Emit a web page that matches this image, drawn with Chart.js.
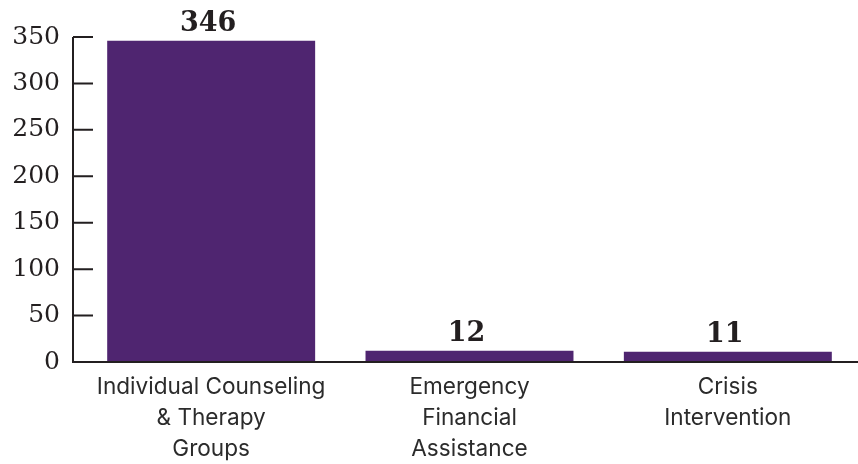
<!DOCTYPE html>
<html>
<head>
<meta charset="utf-8">
<script src="https://cdn.jsdelivr.net/npm/chart.js@4"></script>
<style>
  html, body { margin: 0; padding: 0; background: #fff; }
  #wrap { width: 858px; height: 464px; }
</style>
</head>
<body>
<div id="wrap"><canvas id="chart"></canvas></div>
<script>
const categories = [
    ['Individual Counseling', '& Therapy', 'Groups'],
    ['Emergency', 'Financial', 'Assistance'],
    ['Crisis', 'Intervention']
];
const values = [346, 12, 11];
const yTicks = [0, 50, 100, 150, 200, 250, 300, 350];

const barColor = '#4f2570';
const inkColor = '#231f20';

// axis lines, inner ticks and value labels
const decorate = {
    id: 'decorate',
    afterDatasetsDraw(chart) {
        const c = chart.ctx;
        const area = chart.chartArea;
        const y = chart.scales.y;
        const axisX = area.left - 9;
        c.save();
        c.strokeStyle = inkColor;
        c.lineWidth = 2;
        c.beginPath();
        c.moveTo(axisX, y.getPixelForValue(350));
        c.lineTo(axisX, y.getPixelForValue(0));
        c.lineTo(chart.width, y.getPixelForValue(0));
        yTicks.forEach(v => {
            const py = y.getPixelForValue(v);
            c.moveTo(axisX, py);
            c.lineTo(axisX + 20, py);
        });
        c.stroke();

        c.fillStyle = inkColor;
        c.font = 'bold 27px "DejaVu Serif"';
        c.textAlign = 'center';
        c.textBaseline = 'alphabetic';
        chart.getDatasetMeta(0).data.forEach((bar, i) => {
            c.fillText(String(values[i]), bar.x - 3, bar.y - 10);
        });
        c.restore();
    }
};

new Chart(document.getElementById('chart'), {
    type: 'bar',
    data: {
        labels: categories,
        datasets: [{
            data: values,
            backgroundColor: barColor,
            barPercentage: 0.805,
            categoryPercentage: 1
        }]
    },
    options: {
        responsive: true,
        maintainAspectRatio: false,
        animation: false,
        layout: { padding: { top: 37, right: 1, left: 0, bottom: 0 } },
        plugins: {
            legend: { display: false },
            tooltip: { enabled: false }
        },
        scales: {
            x: {
                grid: { display: false },
                border: { display: false },
                ticks: {
                    color: '#2b2b2b',
                    padding: 1,
                    maxRotation: 0,
                    autoSkip: false,
                    font: { family: 'Inter', size: 22.6, lineHeight: 1.39 }
                },
                afterFit(scale) { scale.height = 102; }
            },
            y: {
                min: 0,
                max: 350,
                grid: { display: false },
                border: { display: false },
                afterBuildTicks(scale) {
                    scale.ticks = yTicks.map(v => ({ value: v }));
                },
                ticks: {
                    color: inkColor,
                    padding: 14,
                    font: { family: 'DejaVu Serif', size: 25 }
                },
                afterFit(scale) { scale.width = 82; }
            }
        }
    },
    plugins: [decorate]
});
</script>
</body>
</html>
